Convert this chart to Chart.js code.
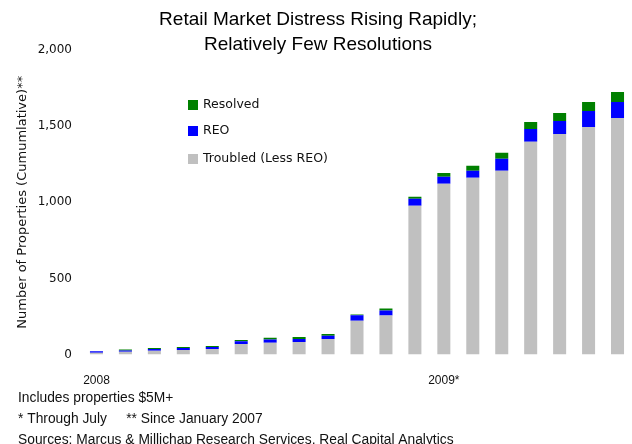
<!DOCTYPE html>
<html>
<head>
<meta charset="utf-8">
<script src="https://cdn.jsdelivr.net/npm/chart.js@4/dist/chart.umd.min.js"></script>
<style>
  body { margin: 0; background: #fff; }
  #wrap { width: 632px; height: 444px; }
</style>
</head>
<body>
<div id="wrap"><canvas id="myChart" width="632" height="444"></canvas></div>
<script>
// months Jan 2008 - Jul 2009
const months = ["Jan 08","Feb 08","Mar 08","Apr 08","May 08","Jun 08","Jul 08","Aug 08","Sep 08","Oct 08","Nov 08","Dec 08",
  "Jan 09","Feb 09","Mar 09","Apr 09","May 09","Jun 09","Jul 09"];
const troubled = [12, 18, 25, 30, 37, 70, 77, 83, 103, 223, 256, 977, 1121, 1161, 1207, 1397, 1449, 1495, 1554];
const reo = [10, 9, 11, 13, 13, 17, 22, 20, 20, 35, 33, 46, 46, 46, 79, 85, 85, 105, 105];
const resolved = [0, 7, 8, 7, 7, 9, 11, 13, 13, 5, 13, 13, 26, 33, 39, 46, 52, 59, 66];
const yearLabels = { 0: "2008", 12: "2009*" };
const yTicks = [0, 500, 1000, 1500, 2000];

const titleLines = ["Retail Market Distress Rising Rapidly;", "Relatively Few Resolutions"];
const notes = ["Includes properties $5M+", "* Through July     ** Since January 2007",
  "Sources: Marcus & Millichap Research Services, Real Capital Analytics"];

const extras = {
  id: "extras",
  afterDraw(chart) {
    const ctx = chart.ctx;
    ctx.save();
    ctx.fillStyle = "#000";
    ctx.textAlign = "center";
    ctx.textBaseline = "middle";
    ctx.font = "19px 'Liberation Sans', Arial, sans-serif";
    ctx.fillText(titleLines[0], 318, 20);
    ctx.fillText(titleLines[1], 318, 45);

    // legend, top item is the top of the stack
    const items = chart.data.datasets.slice().reverse();
    ctx.textAlign = "left";
    ctx.font = "12.5px 'DejaVu Sans', Verdana, sans-serif";
    const ys = [105, 131, 159];
    items.forEach((ds, i) => {
      ctx.fillStyle = ds.backgroundColor;
      ctx.fillRect(188, ys[i] - 5, 10, 10);
      ctx.fillStyle = "#111";
      ctx.fillText(ds.label, 203, ys[i]);
    });

    ctx.font = "13.8px 'Liberation Sans', Arial, sans-serif";
    ctx.fillStyle = "#111";
    notes.forEach((t, i) => ctx.fillText(t, 18, 398 + i * 21));
    ctx.restore();
  }
};

const ctx = document.getElementById("myChart").getContext("2d");
const myChart = new Chart(ctx, {
  type: "bar",
  data: {
    labels: months,
    datasets: [
      { label: "Troubled (Less REO)", data: troubled, backgroundColor: "#C0C0C0" },
      { label: "REO", data: reo, backgroundColor: "#0000FF" },
      { label: "Resolved", data: resolved, backgroundColor: "#008000" }
    ]
  },
  options: {
    responsive: false,
    animation: false,
    layout: { padding: { top: 50, left: 0, right: -6, bottom: 37 } },
    plugins: { legend: { display: false }, tooltip: { enabled: false } },
    datasets: { bar: { barPercentage: 0.45, categoryPercentage: 1 } },
    scales: {
      x: {
        stacked: true,
        grid: { display: false, drawTicks: false },
        border: { display: false },
        afterFit: (s) => { s.paddingLeft = 0; s.paddingRight = -6; },
        ticks: {
          autoSkip: false, maxRotation: 0, padding: 19, color: "#111",
          font: { family: "'Liberation Sans', Arial, sans-serif", size: 12 },
          callback: (v, i) => yearLabels[i] || ""
        }
      },
      y: {
        stacked: true,
        min: 0, max: 2000,
        grid: { display: false, drawTicks: false },
        border: { display: false },
        afterBuildTicks: (s) => { s.ticks = yTicks.map(v => ({ value: v })); },
        afterFit: (s) => { s.width = 82; },
        ticks: {
          padding: 10, color: "#111",
          font: { family: "'DejaVu Sans', Verdana, sans-serif", size: 12 },
          callback: (v) => v.toLocaleString("en-US")
        },
        title: {
          display: true, text: "Number of Properties (Cumumlative)**", color: "#111",
          font: { family: "'DejaVu Sans', Verdana, sans-serif", size: 13 },
          padding: { top: 15, bottom: 4 }
        }
      }
    }
  },
  plugins: [extras]
});
</script>
</body>
</html>
